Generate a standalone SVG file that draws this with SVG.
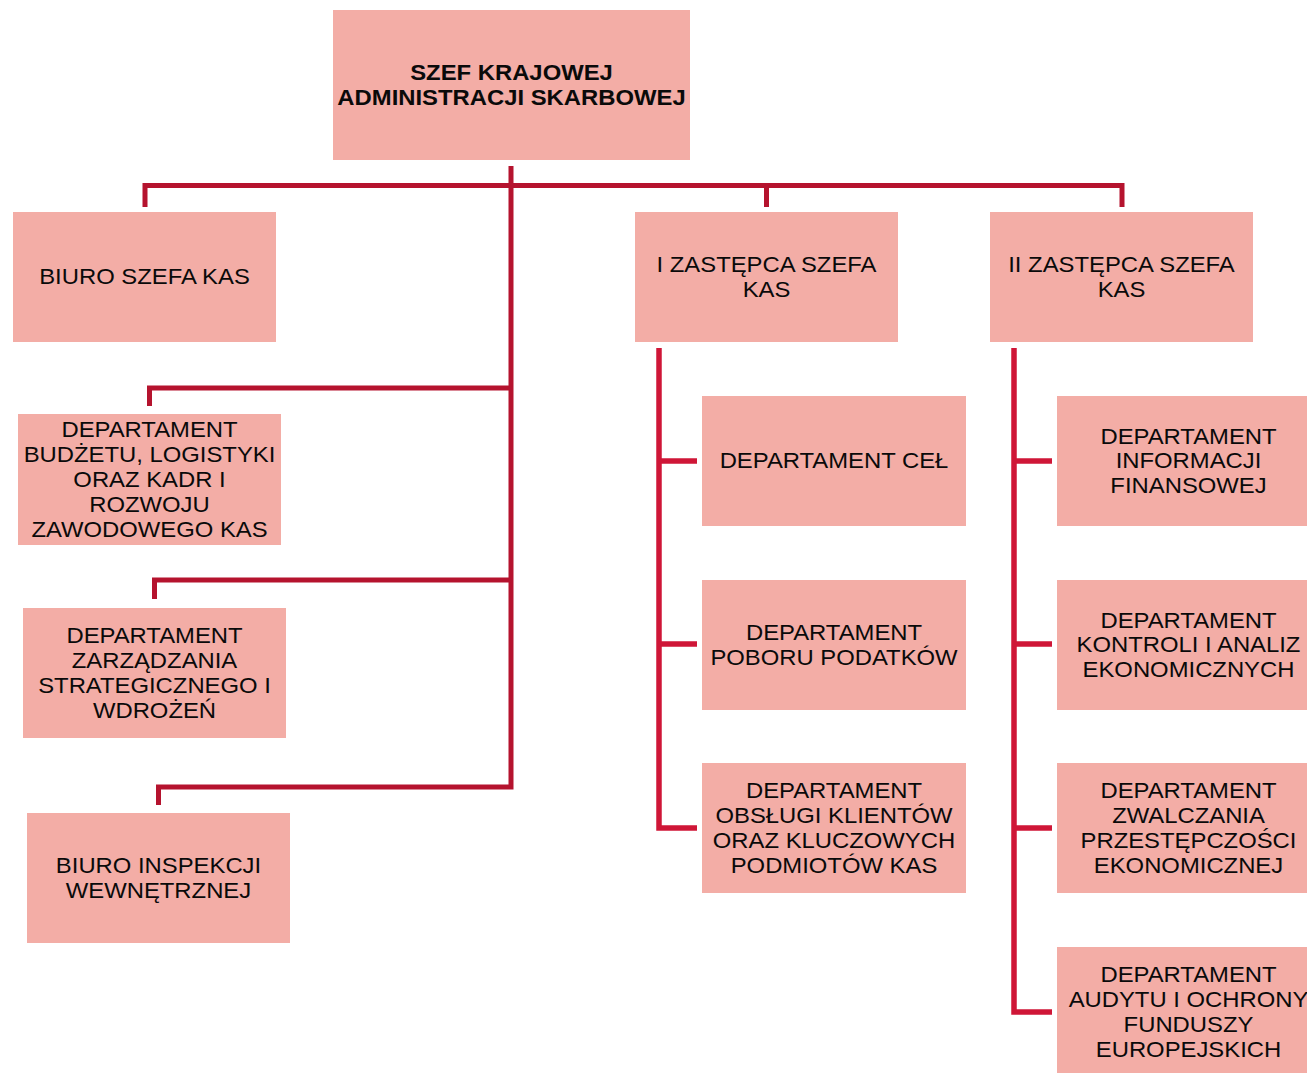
<svg xmlns="http://www.w3.org/2000/svg" width="1307" height="1073" viewBox="0 0 1307 1073">
  <style>
    .box { fill: #F3ADA6; }
    .t { font-family: "Liberation Sans", Arial, sans-serif; font-size: 22.5px; fill: #0A0A0A; text-anchor: middle; }
    .b { font-weight: bold; }
    .cl { fill: none; stroke: #B5132E; stroke-width: 5; stroke-linejoin: miter; }
    .cr { fill: none; stroke: #CF1637; stroke-width: 5.5; stroke-linejoin: miter; }
  </style>
  <rect width="1307" height="1073" fill="#FFFFFF"/>

  <g id="connectors">
    <path class="cl" d="M145 207 V185.5 H1122 V207"/>
    <path class="cl" d="M766.5 185.5 V207"/>
    <path class="cl" d="M158.5 805 V787 H511 V166"/>
    <path class="cl" d="M149.5 406 V388 H511"/>
    <path class="cl" d="M154.5 599 V580 H511"/>
    <path class="cr" d="M697 828 H659 V348"/>
    <path class="cr" d="M659 461 H697 M659 644 H697"/>
    <path class="cr" d="M1052 1012 H1014 V348"/>
    <path class="cr" d="M1014 461 H1052 M1014 644 H1052 M1014 828 H1052"/>
  </g>

  <g id="szef">
    <rect class="box" x="333" y="10" width="357" height="150"/>
    <g transform="translate(511.5 0) scale(1.06 1)">
      <text class="t b" x="0" y="80">SZEF KRAJOWEJ</text>
      <text class="t b" x="0" y="104.8">ADMINISTRACJI SKARBOWEJ</text>
    </g>
  </g>

  <g id="biuro-szefa">
    <rect class="box" x="13" y="212" width="263" height="130"/>
    <g transform="translate(144.5 0) scale(1.06 1)">
      <text class="t" x="0" y="284.5">BIURO SZEFA KAS</text>
    </g>
  </g>

  <g id="zastepca-1">
    <rect class="box" x="635" y="212" width="263" height="130"/>
    <g transform="translate(766.5 0) scale(1.06 1)">
      <text class="t" x="0" y="272">I ZASTĘPCA SZEFA</text>
      <text class="t" x="0" y="296.8">KAS</text>
    </g>
  </g>

  <g id="zastepca-2">
    <rect class="box" x="990" y="212" width="263" height="130"/>
    <g transform="translate(1121.5 0) scale(1.06 1)">
      <text class="t" x="0" y="272">II ZASTĘPCA SZEFA</text>
      <text class="t" x="0" y="296.8">KAS</text>
    </g>
  </g>

  <g id="dep-budzetu">
    <rect class="box" x="18" y="414" width="263" height="131"/>
    <g transform="translate(149.5 0) scale(1.06 1)">
      <text class="t" x="0" y="437.4">DEPARTAMENT</text>
      <text class="t" x="0" y="462.2">BUDŻETU, LOGISTYKI</text>
      <text class="t" x="0" y="487">ORAZ KADR I</text>
      <text class="t" x="0" y="511.8">ROZWOJU</text>
      <text class="t" x="0" y="536.6">ZAWODOWEGO KAS</text>
    </g>
  </g>

  <g id="dep-zarzadzania">
    <rect class="box" x="23" y="608" width="263" height="130"/>
    <g transform="translate(154.5 0) scale(1.06 1)">
      <text class="t" x="0" y="643.3">DEPARTAMENT</text>
      <text class="t" x="0" y="668.1">ZARZĄDZANIA</text>
      <text class="t" x="0" y="692.9">STRATEGICZNEGO I</text>
      <text class="t" x="0" y="717.7">WDROŻEŃ</text>
    </g>
  </g>

  <g id="biuro-inspekcji">
    <rect class="box" x="27" y="813" width="263" height="130"/>
    <g transform="translate(158.5 0) scale(1.06 1)">
      <text class="t" x="0" y="873.1">BIURO INSPEKCJI</text>
      <text class="t" x="0" y="897.9">WEWNĘTRZNEJ</text>
    </g>
  </g>

  <g id="dep-cel">
    <rect class="box" x="702" y="396" width="264" height="130"/>
    <g transform="translate(834 0) scale(1.06 1)">
      <text class="t" x="0" y="468.5">DEPARTAMENT CEŁ</text>
    </g>
  </g>

  <g id="dep-poboru">
    <rect class="box" x="702" y="580" width="264" height="130"/>
    <g transform="translate(834 0) scale(1.06 1)">
      <text class="t" x="0" y="640.1">DEPARTAMENT</text>
      <text class="t" x="0" y="664.9">POBORU PODATKÓW</text>
    </g>
  </g>

  <g id="dep-obslugi">
    <rect class="box" x="702" y="763" width="264" height="130"/>
    <g transform="translate(834 0) scale(1.06 1)">
      <text class="t" x="0" y="798.3">DEPARTAMENT</text>
      <text class="t" x="0" y="823.1">OBSŁUGI KLIENTÓW</text>
      <text class="t" x="0" y="847.9">ORAZ KLUCZOWYCH</text>
      <text class="t" x="0" y="872.7">PODMIOTÓW KAS</text>
    </g>
  </g>

  <g id="dep-informacji">
    <rect class="box" x="1057" y="396" width="263" height="130"/>
    <g transform="translate(1188.5 0) scale(1.06 1)">
      <text class="t" x="0" y="443.7">DEPARTAMENT</text>
      <text class="t" x="0" y="468.5">INFORMACJI</text>
      <text class="t" x="0" y="493.3">FINANSOWEJ</text>
    </g>
  </g>

  <g id="dep-kontroli">
    <rect class="box" x="1057" y="580" width="263" height="130"/>
    <g transform="translate(1188.5 0) scale(1.06 1)">
      <text class="t" x="0" y="627.7">DEPARTAMENT</text>
      <text class="t" x="0" y="652.5">KONTROLI I ANALIZ</text>
      <text class="t" x="0" y="677.3">EKONOMICZNYCH</text>
    </g>
  </g>

  <g id="dep-zwalczania">
    <rect class="box" x="1057" y="763" width="263" height="130"/>
    <g transform="translate(1188.5 0) scale(1.06 1)">
      <text class="t" x="0" y="798.3">DEPARTAMENT</text>
      <text class="t" x="0" y="823.1">ZWALCZANIA</text>
      <text class="t" x="0" y="847.9">PRZESTĘPCZOŚCI</text>
      <text class="t" x="0" y="872.7">EKONOMICZNEJ</text>
    </g>
  </g>

  <g id="dep-audytu">
    <rect class="box" x="1057" y="947" width="263" height="130"/>
    <g transform="translate(1188.5 0) scale(1.06 1)">
      <text class="t" x="0" y="982.3">DEPARTAMENT</text>
      <text class="t" x="0" y="1007.1">AUDYTU I OCHRONY</text>
      <text class="t" x="0" y="1031.9">FUNDUSZY</text>
      <text class="t" x="0" y="1056.7">EUROPEJSKICH</text>
    </g>
  </g>
</svg>
